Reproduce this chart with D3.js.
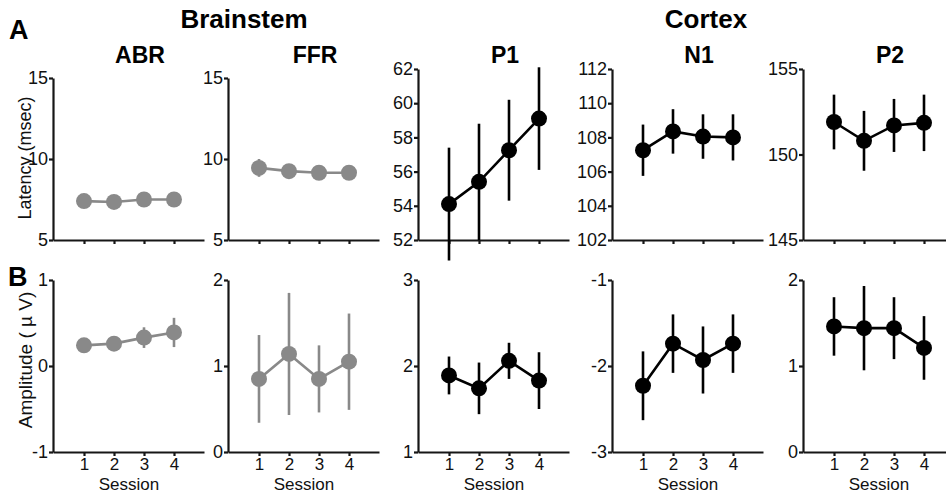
<!DOCTYPE html>
<html>
<head>
<meta charset="utf-8">
<script src="https://cdn.jsdelivr.net/npm/d3@7"></script>
<style>
  body { margin: 0; background: #fff; }
  svg { font-family: Arial, "Liberation Sans", Helvetica, sans-serif; }
</style>
</head>
<body>
<script>
// sessions on the x axis
const sessions = [1, 2, 3, 4]
const panelNames = ["ABR", "FFR", "P1", "N1", "P2"]

// latency (msec), mean and error
const abrLatency = [7.4, 7.35, 7.5, 7.5]
const abrLatencyErr = [0.35, 0.35, 0.35, 0.35]
const ffrLatency = [9.45, 9.25, 9.15, 9.15]
const ffrLatencyErr = [0.55, 0.4, 0.4, 0.4]
const p1Latency = [54.1, 55.4, 57.25, 59.1]
const p1LatencyErr = [3.3, 3.4, 2.95, 3.0]
const n1Latency = [107.25, 108.35, 108.05, 108.0]
const n1LatencyErr = [1.5, 1.3, 1.3, 1.35]
const p2Latency = [151.9, 150.8, 151.7, 151.85]
const p2LatencyErr = [1.6, 1.75, 1.55, 1.65]

// amplitude (uV), mean and error
const abrAmp = [0.24, 0.26, 0.33, 0.39]
const abrAmpErr = [0.06, 0.06, 0.12, 0.17]
const ffrAmp = [0.85, 1.14, 0.85, 1.05]
const ffrAmpErr = [0.51, 0.71, 0.39, 0.56]
const p1Amp = [1.89, 1.74, 2.06, 1.83]
const p1AmpErr = [0.22, 0.3, 0.21, 0.33]
const n1Amp = [-2.23, -1.74, -1.93, -1.74]
const n1AmpErr = [0.4, 0.34, 0.39, 0.34]
const p2Amp = [1.46, 1.44, 1.44, 1.21]
const p2AmpErr = [0.34, 0.49, 0.36, 0.37]

// y tick labels per panel
const latencyTicks = [[5, 10, 15], [5, 10, 15], [52, 54, 56, 58, 60, 62], [102, 104, 106, 108, 110, 112], [145, 150, 155]]
const ampTicks = [[-1, 0, 1], [0, 1, 2], [1, 2, 3], [-3, -2, -1], [0, 1, 2]]

const latency = [abrLatency, ffrLatency, p1Latency, n1Latency, p2Latency]
const latencyErr = [abrLatencyErr, ffrLatencyErr, p1LatencyErr, n1LatencyErr, p2LatencyErr]
const amp = [abrAmp, ffrAmp, p1Amp, n1Amp, p2Amp]
const ampErr = [abrAmpErr, ffrAmpErr, p1AmpErr, n1AmpErr, p2AmpErr]

// layout
const width = 946, height = 494
const axisLeftX = [53, 228, 418, 612, 803]
const panelW = 151
const latTop = [78, 78, 69, 69, 69], latBottom = 240
const ampTop = 280, ampBottom = 452
const grey = "#898989", black = "#000"

const svg = d3.select("body").append("svg")
  .attr("width", width)
  .attr("height", height)

function panel(i, means, errs, ticks, top, bottom, labels) {
  const color = i < 2 ? grey : black
  const g = svg.append("g").attr("transform", "translate(" + axisLeftX[i] + ",0)")

  let x = d3.scaleLinear().domain([-1 / 30, 5]).range([0, panelW])
  let y = d3.scaleLinear().domain(d3.extent(ticks)).range([bottom, top])

  // y axis
  let ya = g.append("g")
    .call(d3.axisLeft(y).tickValues(ticks).tickSize(4).tickSizeOuter(0).tickPadding(1).tickFormat(d => String(d)))
  ya.selectAll("text").style("font-size", "18px").attr("fill", "#111")

  // x axis
  let xa = g.append("g")
    .attr("transform", "translate(0," + bottom + ")")
    .call(d3.axisBottom(x).tickValues(sessions).tickSize(4).tickSizeOuter(0).tickPadding(2)
      .tickFormat(labels ? (d => String(d)) : ""))
  xa.selectAll("text").style("font-size", "17px").attr("fill", "#111")

  g.selectAll(".domain, .tick line").attr("stroke", "#161616").attr("stroke-width", 2.2)

  if (labels) {
    g.append("text")
      .attr("x", x(2.5))
      .attr("y", bottom + 38)
      .attr("text-anchor", "middle")
      .style("font-size", "17px")
      .attr("fill", "#111")
      .text("Session")
  }

  const data = sessions.map((s, k) => ({ s: s, m: means[k], e: errs[k] }))

  // error bars
  g.selectAll(".err").data(data).enter().append("line")
    .attr("x1", d => x(d.s)).attr("x2", d => x(d.s))
    .attr("y1", d => y(d.m - d.e)).attr("y2", d => y(d.m + d.e))
    .attr("stroke", color).attr("stroke-width", 2.6)

  // connecting line
  let valueline = d3.line().x(d => x(d.s)).y(d => y(d.m))
  g.append("path").datum(data)
    .attr("d", valueline)
    .attr("fill", "none").attr("stroke", color).attr("stroke-width", 2.6)

  // markers
  g.selectAll(".pt").data(data).enter().append("circle")
    .attr("cx", d => x(d.s)).attr("cy", d => y(d.m))
    .attr("r", 8)
    .attr("fill", color)

  return x
}

for (let i = 0; i < 5; i++) {
  let x = panel(i, latency[i], latencyErr[i], latencyTicks[i], latTop[i], latBottom, false)
  panel(i, amp[i], ampErr[i], ampTicks[i], ampTop, ampBottom, true)

  svg.append("text")
    .attr("x", axisLeftX[i] + x(3) - 4)
    .attr("y", 63)
    .attr("text-anchor", "middle")
    .style("font-size", "23px").style("font-weight", "bold")
    .text(panelNames[i])
}

// group titles
svg.append("text").attr("x", 244).attr("y", 28).attr("text-anchor", "middle")
  .style("font-size", "26px").style("font-weight", "bold").text("Brainstem")
svg.append("text").attr("x", 706).attr("y", 28).attr("text-anchor", "middle")
  .style("font-size", "26px").style("font-weight", "bold").text("Cortex")

// panel letters
svg.append("text").attr("x", 9).attr("y", 39)
  .style("font-size", "27px").style("font-weight", "bold").text("A")
svg.append("text").attr("x", 8).attr("y", 286)
  .style("font-size", "27px").style("font-weight", "bold").text("B")

// axis titles
svg.append("text")
  .attr("transform", "translate(31,158) rotate(-90)")
  .attr("text-anchor", "middle")
  .style("font-size", "18px").attr("fill", "#111")
  .text("Latency (msec)")
svg.append("text")
  .attr("transform", "translate(32,360) rotate(-90)")
  .attr("text-anchor", "middle")
  .style("font-size", "19px").attr("fill", "#111")
  .text("Amplitude ( \u00b5 V)")
</script>
</body>
</html>
